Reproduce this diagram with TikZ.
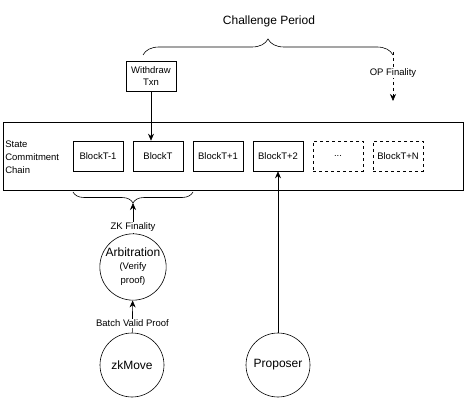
\documentclass[tikz,border=0pt]{standalone}
\usepackage{fontspec}
\setmainfont{Liberation Sans}
\usetikzlibrary{arrows.meta,decorations.pathreplacing}

\begin{document}
\begin{tikzpicture}[x=1pt, y=-1pt, semithick, >={Stealth[length=7pt,width=6pt]}]
    \tikzset{blk/.style={draw, minimum width=50pt, minimum height=30pt, inner sep=0pt, font=\fontsize{9.5}{11}\selectfont}} %% block boxes
    \tikzset{crc/.style={draw, circle, inner sep=0pt, font=\fontsize{12}{14}\selectfont}}
    \tikzset{lbl/.style={fill=white, inner sep=1pt, font=\fontsize{9.5}{11}\selectfont}}
    \useasboundingbox (0,0) rectangle (466,401);

    \node[font=\fontsize{12}{14}\selectfont] (title) at (269,21) {Challenge Period};
    \draw[decorate, decoration={brace, amplitude=16pt}] (143,55) -- (393,55);

    \node[draw, minimum width=50pt, minimum height=30pt, inner sep=0pt, align=center,
          font=\fontsize{9.5}{12}\selectfont] (wtx) at (151,76) {Withdraw\\Txn};
    \coordinate (opstart) at (393,52);
    \coordinate (opend) at (393,101);
    \draw[dashed, ->] (opstart) -- (opend) node[lbl, pos=0.42] {OP Finality};

    % state commitment chain
    \node[draw, minimum width=460pt, minimum height=68pt, inner sep=0pt] (chain) at (233,156) {};
    \node[anchor=west, align=left, inner sep=0pt, font=\fontsize{9.5}{13}\selectfont] (sclabel) at (5,157) {State\\Commitment\\Chain};
    \foreach \x/\name/\txt in {98/b0/BlockT-1, 158/b1/BlockT, 218/b2/BlockT+1, 278/b3/BlockT+2} {
            \node[blk] (\name) at (\x,156) {\txt};
        }
    \foreach \x/\name/\txt in {338/b4/{...}, 398/b5/{BlockT+N}} {
            \node[blk, dashed] (\name) at (\x,156) {\txt};
        }
    \draw[->] (wtx.south) -- (wtx.south |- b1.north);

    \draw[decorate, decoration={brace, amplitude=11pt, mirror}] (73,192) -- (193,192);
    \coordinate (zkfin) at (133,203);

    \node[crc, minimum size=60pt, align=center] (arb) at (133,267)
        {Arbitration\\[-1pt]{\fontsize{9.5}{13}\selectfont (Verify}\\{\fontsize{9.5}{13}\selectfont proof)}};
    \node[crc, minimum size=64pt] (zk) at (132,365) {zkMove};
    \node[crc, minimum size=64pt] (prop) at (278,365) {Proposer};

    \draw[->] (arb) -- (zkfin) node[lbl, pos=0.2] {ZK Finality};
    \draw[->] (zk) -- (arb) node[lbl, pos=0.3] {Batch Valid Proof};
    \draw[->] (prop) -- (b3);
\end{tikzpicture}
\end{document}
